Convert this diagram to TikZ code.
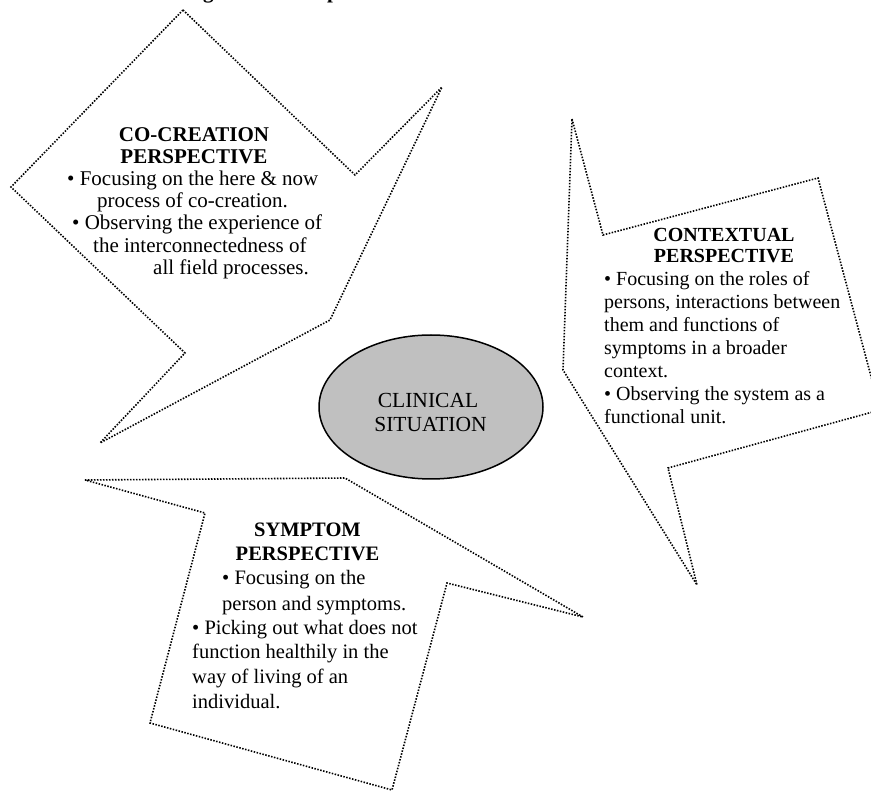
\documentclass[tikz,border=0pt]{standalone}
\usepackage{fontspec}
\setmainfont{Liberation Serif}
\usetikzlibrary{shapes.geometric}
\definecolor{ellgray}{RGB}{192,192,192}
\tikzset{
  dotline/.style={line width=1.6pt, dash pattern=on 1.5pt off 1.5pt},
  ctext/.style={inner sep=0pt, font=\fontsize{21}{22}\selectfont},
  xtext/.style={inner sep=0pt, font=\fontsize{20}{22}\selectfont},
  stext/.style={inner sep=0pt, font=\fontsize{20.5}{22}\selectfont},
  ltext/.style={inner sep=0pt, anchor=base west},
  htext/.style={inner sep=0pt, anchor=base, font=\bfseries\fontsize{21}{22}\selectfont},
}
\begin{document}
\begin{tikzpicture}[x=1pt,y=-1pt]
\useasboundingbox (0,0) rectangle (871,791);
\clip (0,0) rectangle (871,791);
% cut-off title fragments
\node[ltext, font=\bfseries\fontsize{21}{22}\selectfont] (tg) at (203,-1) {g};
\node[ltext, font=\bfseries\fontsize{21}{22}\selectfont] (tp) at (327,-1) {p};
% co-creation callout
\draw[dotline] (183,10) -- (355,175) -- (442,87) -- (330,320) -- (100,443)
  -- (185,353) -- (11,187) -- cycle;
% contextual callout
\draw[dotline] (572,119) -- (603,235) -- (818,178) -- (880,410) -- (668,468)
  -- (697,585) -- (563,370) -- cycle;
% symptom callout
\draw[dotline] (85,480) -- (345,478) -- (583,617) -- (447,583) -- (392,790)
  -- (150,723) -- (205,513) -- cycle;
% centre
\node[ellipse, draw, line width=1.5pt, fill=ellgray, minimum width=224pt,
  minimum height=144pt, inner sep=0pt] (cs) at (431,407) {};
\node[anchor=base, inner sep=0pt, font=\fontsize{21.5}{24}\selectfont] (cs1) at (428,408) {CLINICAL};
\node[anchor=base, inner sep=0pt, font=\fontsize{21.5}{24}\selectfont] (cs2) at (430.5,432) {SITUATION};
% co-creation text
\node[htext] (c1) at (194,142) {CO-CREATION};
\node[htext] (c2) at (194,164) {PERSPECTIVE};
\node[ltext, ctext] (c3) at (67,186) {• Focusing on the here \& now};
\node[ltext, ctext] (c4) at (97,208) {process of co-creation.};
\node[ltext, ctext] (c5) at (72,230) {• Observing the experience of};
\node[ltext, ctext] (c6) at (93,253) {the interconnectedness of};
\node[ltext, ctext] (c7) at (153,275) {all field processes.};
% contextual text
\node[htext, font=\bfseries\fontsize{20}{22}\selectfont] (x1) at (724,242) {CONTEXTUAL};
\node[htext, font=\bfseries\fontsize{20}{22}\selectfont] (x2) at (724,263) {PERSPECTIVE};
\node[ltext, xtext] (x3) at (604,286) {• Focusing on the roles of};
\node[ltext, xtext] (x4) at (604,309) {persons, interactions between};
\node[ltext, xtext] (x5) at (604,332) {them and functions of};
\node[ltext, xtext] (x6) at (604,355) {symptoms in a broader};
\node[ltext, xtext] (x7) at (604,378) {context.};
\node[ltext, xtext] (x8) at (604,401) {• Observing the system as a};
\node[ltext, xtext] (x9) at (604,424) {functional unit.};
% symptom text
\node[htext, font=\bfseries\fontsize{20.5}{22}\selectfont] (s1) at (307.5,537) {SYMPTOM};
\node[htext, font=\bfseries\fontsize{20.5}{22}\selectfont] (s2) at (307.5,561) {PERSPECTIVE};
\node[ltext, stext] (s3) at (222,585) {• Focusing on the};
\node[ltext, stext] (s4) at (222,610) {person and symptoms.};
\node[ltext, stext] (s5) at (192,634) {• Picking out what does not};
\node[ltext, stext] (s6) at (192,659) {function healthily in the};
\node[ltext, stext] (s7) at (192,683) {way of living of an};
\node[ltext, stext] (s8) at (192,708) {individual.};
\end{tikzpicture}
\end{document}
